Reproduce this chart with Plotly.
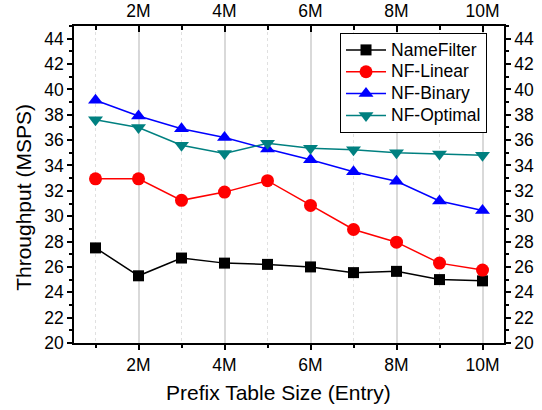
import plotly.graph_objects as go

x_vals = [1, 2, 3, 4, 5, 6, 7, 8, 9, 10]
x_tickvals = [2, 4, 6, 8, 10]
x_ticktext = ["2M", "4M", "6M", "8M", "10M"]
y_tickvals = [20, 22, 24, 26, 28, 30, 32, 34, 36, 38, 40, 42, 44]
x_title = "Prefix Table Size (Entry)"
y_title = "Throughput (MSPS)"

namefilter = [27.5, 25.3, 26.7, 26.3, 26.2, 26.0, 25.55, 25.65, 25.0, 24.9]
nf_linear = [32.95, 32.95, 31.25, 31.9, 32.8, 30.85, 28.95, 27.95, 26.3, 25.75]
nf_binary = [39.15, 37.9, 36.9, 36.2, 35.3, 34.45, 33.5, 32.75, 31.2, 30.45]
nf_optimal = [37.6, 37.0, 35.6, 34.95, 35.75, 35.35, 35.25, 35.0, 34.9, 34.8]

series = [
    ("NameFilter", namefilter, "#000000", "square", 11),
    ("NF-Linear", nf_linear, "#ff0000", "circle", 13),
    ("NF-Binary", nf_binary, "#0000ff", "triangle-up", 13),
    ("NF-Optimal", nf_optimal, "#008080", "triangle-down", 13),
]

FONT = "Liberation Sans, Arial, sans-serif"
TICK = 17.5

fig = go.Figure()
for name, vals, color, sym, size in series:
    fig.add_trace(go.Scatter(
        x=x_vals, y=vals, mode="lines+markers",
        name='<span style="font-size:17.5px">' + name + '</span>',
        line=dict(color=color, width=1.5),
        marker=dict(symbol=sym, size=size, color=color),
    ))

# helper trace to activate the top / right axes (not visible)
fig.add_trace(go.Scatter(x=x_vals, y=namefilter, xaxis="x2", yaxis="y2",
                         mode="none", showlegend=False, hoverinfo="skip"))

fig.update_layout(
    width=542, height=410,
    margin=dict(l=74, r=38, t=26, b=67),
    paper_bgcolor="white", plot_bgcolor="white",
    font=dict(family=FONT, size=TICK, color="black"),
    showlegend=True,
    legend=dict(
        x=0.9605, y=0.978, xanchor="right", yanchor="top",
        bgcolor="white", bordercolor="black", borderwidth=1,
        font=dict(size=14.5, family=FONT),
        tracegroupgap=0, itemwidth=40,
    ),
    xaxis=dict(
        range=[0.5, 10.5], tickvals=x_tickvals, ticktext=x_ticktext,
        ticks="outside", ticklen=5, tickwidth=1.5, tickcolor="black",
        showline=True, linecolor="black", linewidth=1.5,
        showgrid=True, gridcolor="#d9d9d9", gridwidth=1.5,
        zeroline=False, automargin=False,
        minor=dict(tickvals=[1, 3, 5, 7, 9], ticks="outside", ticklen=3,
                   tickcolor="black", showgrid=True, gridcolor="#e0e0e0",
                   griddash="dot", gridwidth=1),
        tickfont=dict(size=TICK),
    ),
    xaxis2=dict(
        range=[0.5, 10.5], overlaying="x", side="top", anchor="y",
        tickvals=x_tickvals, ticktext=x_ticktext,
        ticks="inside", ticklen=6, tickwidth=1.5, tickcolor="black",
        showline=True, linecolor="black", linewidth=1.5,
        showgrid=False, zeroline=False, automargin=False,
        minor=dict(tickvals=[1, 3, 5, 7, 9], ticks="inside", ticklen=4,
                   tickcolor="black"),
        tickfont=dict(size=TICK),
    ),
    yaxis=dict(
        range=[20, 45], tickvals=y_tickvals,
        ticks="outside", ticklen=5, tickwidth=1.5, tickcolor="black",
        showline=True, linecolor="black", linewidth=1.5,
        showgrid=False, zeroline=False, automargin=False,
        minor=dict(dtick=1, ticks="outside", ticklen=3, tickcolor="black"),
        tickfont=dict(size=TICK),
    ),
    yaxis2=dict(
        range=[20, 45], overlaying="y", side="right", anchor="x",
        tickvals=y_tickvals,
        ticks="outside", ticklen=5, tickwidth=1.5, tickcolor="black",
        showline=True, linecolor="black", linewidth=1.5,
        showgrid=False, zeroline=False, automargin=False,
        minor=dict(dtick=1, ticks="outside", ticklen=3, tickcolor="black"),
        tickfont=dict(size=TICK),
    ),
    annotations=[
        dict(text=x_title, xref="paper", yref="paper", x=0.4767, y=-0.1566,
             xanchor="center", yanchor="middle", showarrow=False,
             font=dict(size=21)),
        dict(text=y_title, xref="paper", yref="paper", x=-0.1163, y=0.461,
             xanchor="center", yanchor="middle", showarrow=False,
             textangle=-90, font=dict(size=21)),
    ],
)

fig.write_html("out.html")
